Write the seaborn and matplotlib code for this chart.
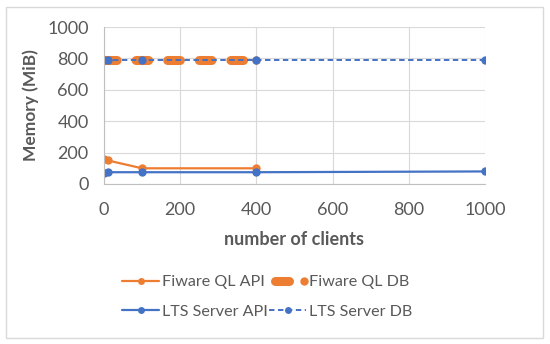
import matplotlib
matplotlib.use("Agg")
import matplotlib.pyplot as plt
import seaborn as sns
import pandas as pd
from matplotlib.lines import Line2D
from matplotlib.legend_handler import HandlerBase

fiware_api_x = [1, 10, 100, 400]
fiware_api_y = [160, 150, 100, 100]
fiware_db_x = [1, 10, 100, 400]
fiware_db_y = [790, 790, 790, 790]
lts_api_x = [1, 10, 100, 400, 1000]
lts_api_y = [70, 75, 75, 75, 80]
lts_db_x = [1, 10, 100, 400, 1000]
lts_db_y = [790, 790, 790, 790, 790]

sns.set_style("white")
plt.rcParams['font.family'] = ['Lato', 'DejaVu Sans']

orange = "#ED7D31"
blue = "#4472C4"
gray = "#595959"

fig = plt.figure(figsize=(5.5, 3.44), dpi=100)
ax = fig.add_axes([104/550, 1-184/344, (485-104)/550, (184-27)/344])

def df(x, y):
    return pd.DataFrame({"x": x, "y": y})

sns.lineplot(data=df(fiware_api_x, fiware_api_y), x="x", y="y", ax=ax, color=orange,
             lw=1.6, marker="o", markersize=6, markeredgewidth=0, legend=False)
sns.lineplot(data=df(fiware_db_x, fiware_db_y), x="x", y="y", ax=ax, color=orange,
             lw=6.5, marker="o", markersize=6, markeredgewidth=0,
             dashes=[(1.4, 2.1)], style=[0]*4, legend=False, dash_capstyle="round")
sns.lineplot(data=df(lts_api_x, lts_api_y), x="x", y="y", ax=ax, color=blue,
             lw=1.6, marker="o", markersize=6, markeredgewidth=0, legend=False)
sns.lineplot(data=df(lts_db_x, lts_db_y), x="x", y="y", ax=ax, color=blue,
             lw=1.4, marker="o", markersize=6, markeredgewidth=0,
             dashes=[(2.8, 1.8)], style=[0]*5, legend=False)

ax.set_xlim(0, 1000)
ax.set_ylim(0, 1000)
ax.set_xticks(range(0, 1001, 200))
ax.set_yticks(range(0, 1001, 200))
ax.grid(True, color="#D9D9D9", lw=0.8)
for s in ["top", "right"]:
    ax.spines[s].set_visible(False)
for s in ["left", "bottom"]:
    ax.spines[s].set_color("#BFBFBF")
    ax.spines[s].set_linewidth(0.8)
ax.tick_params(axis="both", labelsize=13, colors=gray, length=0)
ax.tick_params(axis="x", pad=13)
ax.tick_params(axis="y", pad=11)
ax.set_xlabel("number of clients", fontsize=13, fontweight="bold", color=gray, labelpad=9)
ax.set_ylabel("Memory (MiB)", fontsize=12.5, fontweight="bold", color=gray, labelpad=6)


class ThickDashHandler(HandlerBase):
    def create_artists(self, legend, orig_handle, xdescent, ydescent, width, height, fontsize, trans):
        y = height / 2 - ydescent
        seg = Line2D([-xdescent + 4, -xdescent + width * 0.55], [y, y], color=orange, lw=6.5,
                     solid_capstyle="round", transform=trans)
        dot = Line2D([-xdescent + width * 0.95], [y], color=orange, marker="o", markersize=6,
                     markeredgewidth=0, ls="none", transform=trans)
        return [seg, dot]


h_fapi = Line2D([], [], color=orange, lw=1.6, marker="o", markersize=5, markeredgewidth=0)
h_lapi = Line2D([], [], color=blue, lw=1.6, marker="o", markersize=5, markeredgewidth=0)
h_fdb = Line2D([], [], color=orange, lw=6.5)
h_ldb = Line2D([], [], color=blue, lw=1.4, marker="o", markersize=5, markeredgewidth=0, ls=(0, (2.8, 1.8)))
handles = [h_fapi, h_lapi, h_fdb, h_ldb]
labels = ["Fiware QL API", "LTS Server API", "Fiware QL DB", "LTS Server DB"]
leg = ax.legend(handles, labels, loc="center", bbox_to_anchor=(267/550, 1-297/344),
                bbox_transform=fig.transFigure, handler_map={h_fdb: ThickDashHandler()},
                ncol=2, frameon=False, fontsize=11.6, handlelength=2.3, handletextpad=0.15,
                columnspacing=0.1, labelspacing=0.95)
for t in leg.get_texts():
    t.set_color(gray)

fig.patches.append(plt.Rectangle((6/550, 6/344), 537/550, 331/344, transform=fig.transFigure,
                                 fill=False, edgecolor="#D9D9D9", lw=1))
fig.savefig("out.png", dpi=100)
